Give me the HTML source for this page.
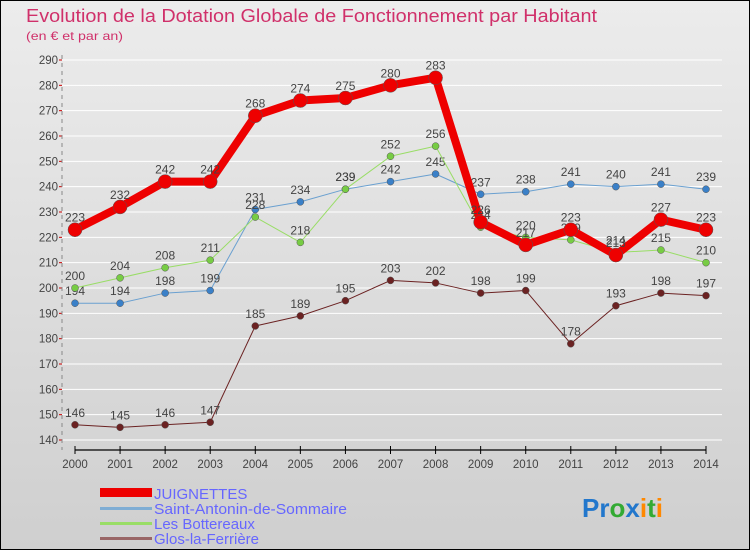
<!DOCTYPE html>
<html><head><meta charset="utf-8"><style>
html,body{margin:0;padding:0}
body{width:750px;height:550px;overflow:hidden;font-family:"Liberation Sans",sans-serif}
svg text{font-family:"Liberation Sans",sans-serif}
</style></head><body>
<svg id="chart" width="750" height="550" xmlns="http://www.w3.org/2000/svg">
<defs><linearGradient id="bg" x1="0" y1="0" x2="0" y2="1"><stop offset="0" stop-color="#ececec"/><stop offset="1" stop-color="#cfcfcf"/></linearGradient></defs>
<rect x="0.5" y="0.5" width="749" height="549" fill="url(#bg)" stroke="#000"/>
<text x="26" y="22" font-size="18" fill="#d0306a" textLength="571" lengthAdjust="spacingAndGlyphs">Evolution de la Dotation Globale de Fonctionnement par Habitant</text>
<text x="26" y="40" font-size="12" fill="#d0306a" textLength="97" lengthAdjust="spacingAndGlyphs">(en € et par an)</text>
<g id="grid"></g><g id="axes"></g><g id="series"></g>
<g>
<rect x="100" y="488" width="52" height="9" fill="#ee0000"/>
<text x="154" y="499" font-size="15" fill="#6666ff">JUIGNETTES</text>
<rect x="100" y="507" width="52" height="3" fill="#7fadd4"/>
<text x="154" y="514" font-size="15" fill="#6666ff" textLength="193" lengthAdjust="spacingAndGlyphs">Saint-Antonin-de-Sommaire</text>
<rect x="100" y="522" width="52" height="3" fill="#99dd66"/>
<text x="154" y="529" font-size="15" fill="#6666ff">Les Bottereaux</text>
<rect x="100" y="537" width="52" height="3" fill="#996666"/>
<text x="154" y="544" font-size="15" fill="#6666ff">Glos-la-Ferrière</text>
</g>
<g font-size="26" font-weight="bold">
<text x="582" y="517"><tspan fill="#2277cc">Pr</tspan><tspan fill="#33aa33">o</tspan><tspan fill="#2277cc">x</tspan><tspan fill="#ff8800">i</tspan><tspan fill="#33aa33">t</tspan><tspan fill="#ff8800">i</tspan></text>
</g>
</svg>
<script>
const years=[2000,2001,2002,2003,2004,2005,2006,2007,2008,2009,2010,2011,2012,2013,2014];
const juignettes=[223,232,242,242,268,274,275,280,283,226,217,223,213,227,223];
const saintAntonin=[194,194,198,199,231,234,239,242,245,237,238,241,240,241,239];
const bottereaux=[200,204,208,211,228,218,239,252,256,224,220,219,214,215,210];
const glos=[146,145,146,147,185,189,195,203,202,198,199,178,193,198,197];
const yTicks=[140,150,160,170,180,190,200,210,220,230,240,250,260,270,280,290];
const NS="http://www.w3.org/2000/svg";
const X=i=>75+i*(706-75)/(years.length-1);
const Y=v=>440-(v-140)*(380/150);
function mk(t,a,p){const e=document.createElementNS(NS,t);for(const k in a)e.setAttribute(k,a[k]);p.appendChild(e);return e;}
const grid=document.getElementById('grid'),axes=document.getElementById('axes'),ser=document.getElementById('series');
yTicks.forEach(v=>{
 const l=mk('line',{x1:62,x2:722,y1:Y(v),y2:Y(v),stroke:'#fff','stroke-width':1},grid);
 
 
 const t=mk('text',{x:58,y:Y(v)+4,'font-size':11.5,fill:'#444','text-anchor':'end'},axes);
 t.textContent=v;
 
 
 mk('line',{x1:59,x2:62,y1:Y(v),y2:Y(v),stroke:'#c00'},axes);
});
const ax=mk('line',{x1:62,x2:62,y1:Y(290)-5,y2:450,stroke:'#888','stroke-dasharray':'4,4'},axes);


const xa=mk('line',{x1:75,x2:706,y1:450,y2:450,stroke:'#000','stroke-width':1.2},axes);


years.forEach((y,i)=>{
 mk('line',{x1:X(i),x2:X(i),y1:446,y2:454,stroke:'#000'},axes);
 const t=mk('text',{x:X(i),y:468,'font-size':11.5,fill:'#444','text-anchor':'middle'},axes);
 t.textContent=y;
 
 
});
function series(vals,name,color,dot,w,r){
 const g=mk('g',{},ser);
 
 
 const p=mk('polyline',{points:vals.map((v,i)=>X(i)+','+Y(v)).join(' '),fill:'none',stroke:color,'stroke-width':w,'stroke-linejoin':'round'},g);
 
 
 vals.forEach((v,i)=>{
  const c=mk('circle',{cx:X(i),cy:Y(v),r:r,fill:dot,stroke:'#555','stroke-width':0.5},g);
  
  
  const t=mk('text',{x:X(i),y:Y(v)-8,'font-size':12,fill:'#444','text-anchor':'middle'},g);
  t.textContent=v;
  
  
 });
}
series(glos,'glos','#6b2222','#6b2222',1,3.5);
series(saintAntonin,'saint-antonin','#6aa0d0','#3a80c8',1,3.5);
series(bottereaux,'bottereaux','#99dd66','#77cc44',1,3.5);
series(juignettes,'juignettes','#ee0000','#ee0000',8,7);
</script>
</body></html>
